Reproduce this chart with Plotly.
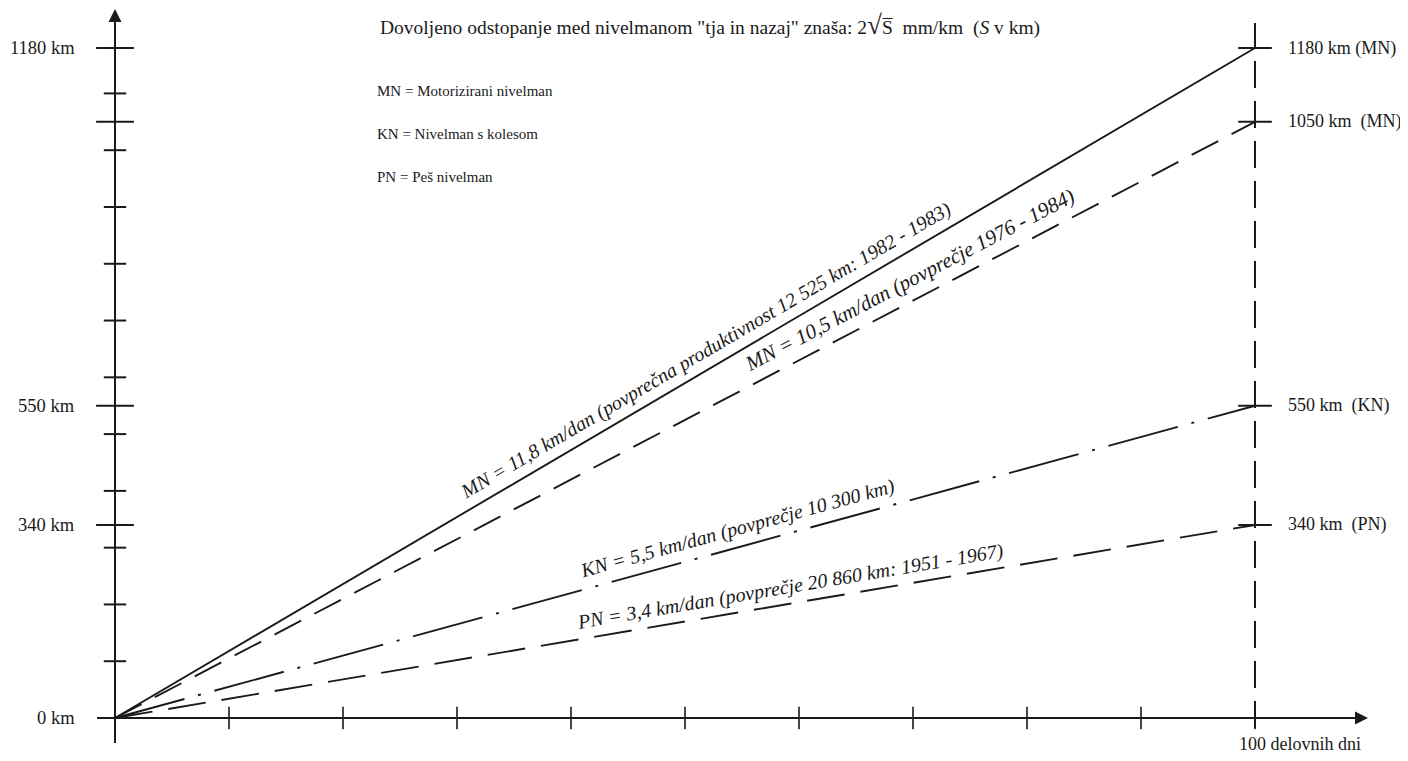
import math
import plotly.graph_objects as go

# ---- data ----
days_end = 100
series_names = ["MN 11,8", "MN 10,5", "KN 5,5", "PN 3,4"]
series_end_km = [1180, 1050, 550, 340]
series_labels = [
    "MN = 11,8 km/dan (povprečna produktivnost 12 525 km: 1982 - 1983)",
    "MN = 10,5 km/dan (povprečje 1976 - 1984)",
    "KN = 5,5 km/dan (povprečje 10 300 km)",
    "PN = 3,4 km/dan (povprečje 20 860 km: 1951 - 1967)",
]
right_labels = ["1180 km (MN)", "1050 km  (MN)", "550 km  (KN)", "340 km  (PN)"]
left_label_vals = [0, 340, 550, 1180]
left_labels = ["0 km", "340 km", "550 km", "1180 km"]
y_minor_ticks = [100, 200, 300, 400, 500, 600, 700, 800, 900, 1000, 1100]
y_major_ticks = [340, 550, 1050, 1180]
x_ticks = [10, 20, 30, 40, 50, 60, 70, 80, 90, 100]
legend_lines = ["MN = Motorizirani nivelman", "KN = Nivelman s kolesom", "PN = Peš nivelman"]
title_text = ('Dovoljeno odstopanje med nivelmanom "tja in nazaj" znaša: 2'
              '<span style="font-size:27px">√</span>'
              'S\u0305  mm/km  (<i>S</i> v km)')
x_axis_label = "100 delovnih dni"

# ---- style / placement ----
series_dash = ["solid", "30px,15px", "72px,14px,3px,14px", "38px,16px"]
series_label_x = [52.6, 70.5, 55.0, 59.5]   # centre of each rotated label (days)
series_label_off = [18, 20, 18, 17]        # px above the line
series_label_size = [20, 21, 20, 20]

W, H = 1392, 745           # figure size (page body adds an 8px margin)
PAGE_OFF = 8
ox, oy = 115, 718          # reference-page pixel of the origin
px_per_day = 11.4
px_per_km = 670 / 1180
xr = [(PAGE_OFF - ox) / px_per_day, (PAGE_OFF + W - ox) / px_per_day]
yr = [(oy - (PAGE_OFF + H)) / px_per_km, (oy - PAGE_OFF) / px_per_km]


def dx(px):
    return (px - ox) / px_per_day


def dy(py):
    return (oy - py) / px_per_km


INK = "#1a1a1a"
FONT = "Liberation Serif"

fig = go.Figure()

# axis lines
fig.add_trace(go.Scatter(x=[dx(97), dx(1360)], y=[0, 0], mode="lines",
                         line=dict(color=INK, width=2), hoverinfo="skip"))
fig.add_trace(go.Scatter(x=[0, 0], y=[dy(743), dy(16)], mode="lines",
                         line=dict(color=INK, width=2), hoverinfo="skip"))

# vertical dashed line at 100 days
fig.add_trace(go.Scatter(x=[days_end, days_end], y=[dy(728), dy(23)], mode="lines",
                         line=dict(color=INK, width=2, dash="27px,13px"), hoverinfo="skip"))

# series lines
for end, dash in zip(series_end_km, series_dash):
    fig.add_trace(go.Scatter(x=[0, days_end], y=[0, end], mode="lines",
                             line=dict(color=INK, width=1.9, dash=dash), hoverinfo="skip"))

# ticks
fig.add_trace(go.Scatter(x=[0] * len(y_minor_ticks), y=y_minor_ticks, mode="markers",
                         marker=dict(symbol="line-ew", size=16, line=dict(color=INK, width=2)),
                         hoverinfo="skip"))
fig.add_trace(go.Scatter(x=[0] * len(y_major_ticks), y=y_major_ticks, mode="markers",
                         marker=dict(symbol="line-ew", size=27, line=dict(color=INK, width=2)),
                         hoverinfo="skip"))
fig.add_trace(go.Scatter(x=x_ticks, y=[0] * len(x_ticks), mode="markers",
                         marker=dict(symbol="line-ns", size=16, line=dict(color=INK, width=1.6)),
                         hoverinfo="skip"))
fig.add_trace(go.Scatter(x=[days_end] * len(series_end_km), y=series_end_km, mode="markers",
                         marker=dict(symbol="line-ew", size=24, line=dict(color=INK, width=2)),
                         hoverinfo="skip"))

annotations = []
# arrow heads
annotations.append(dict(x=dx(1368), y=0, ax=dx(1330), ay=0, axref="x", ayref="y",
                        xref="x", yref="y", showarrow=True, arrowhead=2, arrowsize=1.3,
                        arrowwidth=2, arrowcolor=INK, text=""))
annotations.append(dict(x=0, y=dy(9), ax=0, ay=dy(50), axref="x", ayref="y",
                        xref="x", yref="y", showarrow=True, arrowhead=2, arrowsize=1.3,
                        arrowwidth=2, arrowcolor=INK, text=""))

# left labels
for v, t in zip(left_label_vals, left_labels):
    annotations.append(dict(x=dx(77), y=v, xref="x", yref="y", text=t, showarrow=False,
                            xanchor="right", yanchor="middle",
                            font=dict(family=FONT, size=18.5, color=INK)))
# right labels
for v, t in zip(series_end_km, right_labels):
    annotations.append(dict(x=dx(1286), y=v, xref="x", yref="y", text=t, showarrow=False,
                            xanchor="left", yanchor="middle",
                            font=dict(family=FONT, size=18, color=INK)))
# x label
annotations.append(dict(x=dx(1300), y=dy(744), xref="x", yref="y", text=x_axis_label,
                        showarrow=False, xanchor="center", yanchor="middle",
                        font=dict(family=FONT, size=18, color=INK)))
# title
annotations.append(dict(x=dx(378), y=dy(25), xref="x", yref="y", text=title_text,
                        showarrow=False, xanchor="left", yanchor="middle",
                        font=dict(family=FONT, size=19.5, color=INK)))
# legend text
for i, t in enumerate(legend_lines):
    annotations.append(dict(x=dx(375), y=dy(91 + 43 * i), xref="x", yref="y", text=t,
                            showarrow=False, xanchor="left", yanchor="middle",
                            font=dict(family=FONT, size=15, color=INK)))

# rotated series labels
for end, lab, lx, off, fs in zip(series_end_km, series_labels, series_label_x,
                                 series_label_off, series_label_size):
    slope_px = (end * px_per_km) / (days_end * px_per_day)
    ang = math.degrees(math.atan(slope_px))
    annotations.append(dict(x=lx, y=end / days_end * lx, xref="x", yref="y",
                            text="<i>" + lab + "</i>", showarrow=False,
                            textangle=-ang, xanchor="center", yanchor="middle",
                            xshift=-off * math.sin(math.radians(ang)),
                            yshift=off * math.cos(math.radians(ang)),
                            font=dict(family=FONT, size=fs, color=INK)))

fig.update_layout(
    width=W, height=H,
    margin=dict(l=0, r=0, t=0, b=0),
    paper_bgcolor="white", plot_bgcolor="white",
    showlegend=False,
    xaxis=dict(range=xr, visible=False, fixedrange=True),
    yaxis=dict(range=yr, visible=False, fixedrange=True),
    annotations=annotations,
)

fig.write_html("out.html")
